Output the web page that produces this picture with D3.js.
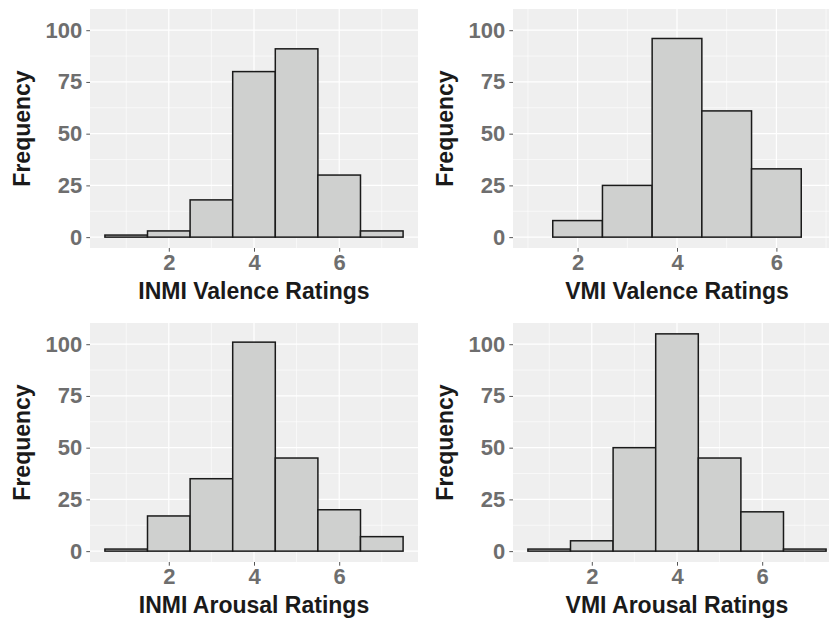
<!DOCTYPE html>
<html>
<head>
<meta charset="utf-8">
<script src="https://cdn.jsdelivr.net/npm/d3@7"></script>
<style>
  html, body { margin: 0; padding: 0; background: #ffffff; }
  svg { display: block; }
  text { font-family: "Liberation Sans", Arial, sans-serif; font-weight: bold; }
</style>
</head>
<body>
<script>
// ---- Data ----
const inmiValenceBins = [1, 2, 3, 4, 5, 6, 7];
const inmiValenceCounts = [1, 3, 18, 80, 91, 30, 3];

const vmiValenceBins = [2, 3, 4, 5, 6];
const vmiValenceCounts = [8, 25, 96, 61, 33];

const inmiArousalBins = [1, 2, 3, 4, 5, 6, 7];
const inmiArousalCounts = [1, 17, 35, 101, 45, 20, 7];

const vmiArousalBins = [1, 2, 3, 4, 5, 6, 7];
const vmiArousalCounts = [1, 5, 50, 105, 45, 19, 1];

const panelTitles = ["INMI Valence Ratings", "VMI Valence Ratings", "INMI Arousal Ratings", "VMI Arousal Ratings"];
const yTicks = [0, 25, 50, 75, 100];
const yMinor = [12.5, 37.5, 62.5, 87.5];
const xTicks = [2, 4, 6];
const xMinor = [1, 3, 5, 7];
const yLabel = "Frequency";

// ---- Layout ----
const W = 829, H = 621;
const svg = d3.select("body").append("svg").attr("width", W).attr("height", H);

const panels = [
  { bins: inmiValenceBins, counts: inmiValenceCounts, title: panelTitles[0], left: 90, top: 9, xdom: [0.15, 7.85] },
  { bins: vmiValenceBins, counts: vmiValenceCounts, title: panelTitles[1], left: 513, top: 9, xdom: [0.7, 7.3] },
  { bins: inmiArousalBins, counts: inmiArousalCounts, title: panelTitles[2], left: 90, top: 323, xdom: [0.15, 7.85] },
  { bins: vmiArousalBins, counts: vmiArousalCounts, title: panelTitles[3], left: 513, top: 323, xdom: [0.15, 7.85] }
];
const PW = 328, PH = 239;

panels.forEach((p, idx) => {
  const g = svg.append("g").attr("transform", `translate(${p.left},${p.top})`);
  const x = d3.scaleLinear().domain(p.xdom).range([0, PW]);
  const y = d3.scaleLinear().domain([-5.25, 110.25]).range([PH, 0]);

  const clipId = "clip" + idx;
  g.append("clipPath").attr("id", clipId).append("rect").attr("width", PW).attr("height", PH);

  const plot = g.append("g").attr("clip-path", `url(#${clipId})`);
  plot.append("rect").attr("width", PW).attr("height", PH).attr("fill", "#EFEFEF");

  // minor grid
  plot.selectAll(".ymin").data(yMinor).enter().append("line")
    .attr("x1", 0).attr("x2", PW).attr("y1", d => y(d)).attr("y2", d => y(d))
    .attr("stroke", "#ffffff").attr("stroke-width", 0.6);
  plot.selectAll(".xmin").data(xMinor).enter().append("line")
    .attr("y1", 0).attr("y2", PH).attr("x1", d => x(d)).attr("x2", d => x(d))
    .attr("stroke", "#ffffff").attr("stroke-width", 0.6);
  // major grid
  plot.selectAll(".ymaj").data(yTicks).enter().append("line")
    .attr("x1", 0).attr("x2", PW).attr("y1", d => y(d)).attr("y2", d => y(d))
    .attr("stroke", "#ffffff").attr("stroke-width", 1.2);
  plot.selectAll(".xmaj").data(xTicks).enter().append("line")
    .attr("y1", 0).attr("y2", PH).attr("x1", d => x(d)).attr("x2", d => x(d))
    .attr("stroke", "#ffffff").attr("stroke-width", 1.2);

  // bars
  const data = p.bins.map((b, i) => ({ b, c: p.counts[i] }));
  plot.selectAll(".bar").data(data).enter().append("rect")
    .attr("x", d => x(d.b - 0.5))
    .attr("width", d => x(d.b + 0.5) - x(d.b - 0.5))
    .attr("y", d => y(d.c))
    .attr("height", d => y(0) - y(d.c))
    .attr("fill", "#CFD0CF")
    .attr("stroke", "#1a1a1a")
    .attr("stroke-width", 1.5);

  // y axis
  const yAxis = d3.axisLeft(y).tickValues(yTicks).tickFormat(d3.format("d")).tickSize(3.7).tickPadding(4);
  const ya = g.append("g").call(yAxis);
  ya.select(".domain").remove();
  ya.selectAll(".tick line").attr("stroke", "#555555").attr("stroke-width", 1);
  ya.selectAll(".tick text").attr("fill", "#6E6E6E").attr("font-size", 22).attr("font-family", "Liberation Sans, Arial, sans-serif").attr("font-weight", "bold");

  // x axis
  const xAxis = d3.axisBottom(x).tickValues(xTicks).tickFormat(d3.format("d")).tickSize(3.7).tickPadding(3);
  const xa = g.append("g").attr("transform", `translate(0,${PH})`).call(xAxis);
  xa.select(".domain").remove();
  xa.selectAll(".tick line").attr("stroke", "#555555").attr("stroke-width", 1);
  xa.selectAll(".tick text").attr("fill", "#6E6E6E").attr("font-size", 22).attr("font-family", "Liberation Sans, Arial, sans-serif").attr("font-weight", "bold");

  // axis titles
  g.append("text")
    .attr("x", PW / 2).attr("y", PH + 51)
    .attr("text-anchor", "middle")
    .attr("font-size", 23).attr("fill", "#1a1a1a")
    .text(p.title);

  g.append("text")
    .attr("transform", `translate(-60,${PH / 2}) rotate(-90)`)
    .attr("text-anchor", "middle")
    .attr("font-size", 23).attr("fill", "#1a1a1a")
    .text(yLabel);
});
</script>
</body>
</html>
